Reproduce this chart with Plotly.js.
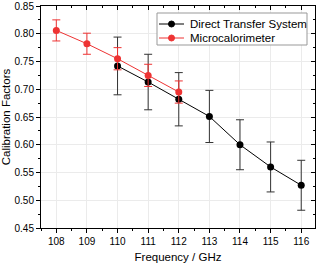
<!DOCTYPE html>
<html>
<head>
<meta charset="utf-8">
<script src="https://cdn.plot.ly/plotly-3.0.1.min.js"></script>
<style>
html,body{margin:0;padding:0;background:#fff;}
#chart{width:320px;height:264px;}
</style>
</head>
<body>
<div id="chart"></div>
<script>
var freqDTS = [110, 111, 112, 113, 114, 115, 116];
var valDTS = [0.742, 0.713, 0.682, 0.651, 0.600, 0.560, 0.527];
var errDTS = [0.052, 0.050, 0.048, 0.047, 0.045, 0.045, 0.045];
var freqMC = [108, 109, 110, 111, 112];
var valMC = [0.806, 0.782, 0.755, 0.725, 0.695];
var errMC = [0.019, 0.019, 0.020, 0.020, 0.020];
var nameDTS = 'Direct Transfer System';
var nameMC = 'Microcalorimeter';
var xTitle = 'Frequency / GHz';
var yTitle = 'Calibration Factors';

var FONT = 'Liberation Sans, Arial, sans-serif';
var XR = [107.5, 116.45];
var YR = [0.45, 0.85];
var BLACK = '#000000';
var RED = '#ee3333';

// plot area in pixels (for legend placement)
var PL = 41, PR = 315, PT = 6, PB = 228;
function px(x) { return (x - PL) / (PR - PL); }
function py(y) { return 1 - (y - PT) / (PB - PT); }

var traces = [
  {
    x: freqDTS, y: valDTS, name: nameDTS, type: 'scatter', mode: 'lines+markers',
    line: {color: BLACK, width: 1},
    marker: {color: BLACK, size: 7},
    error_y: {type: 'data', array: errDTS, visible: true, color: '#333333', thickness: 1, width: 4}
  },
  {
    x: freqMC, y: valMC, name: nameMC, type: 'scatter', mode: 'lines+markers',
    line: {color: RED, width: 1},
    marker: {color: RED, size: 7},
    error_y: {type: 'data', array: errMC, visible: true, color: RED, thickness: 1, width: 4}
  },
  {
    x: [XR[0]], y: [YR[0]], xaxis: 'x2', yaxis: 'y2', type: 'scatter', mode: 'markers',
    marker: {opacity: 0}, showlegend: false, hoverinfo: 'skip'
  }
];

// custom compact legend (Origin style)
var legItems = [
  {name: nameDTS, color: BLACK, row: 24},
  {name: nameMC, color: RED, row: 38}
];
var shapes = [
  {type: 'rect', xref: 'paper', yref: 'paper', x0: px(157), x1: px(307), y0: py(13), y1: py(45),
   line: {color: '#999999', width: 1}, fillcolor: '#ffffff', layer: 'above'}
];
var annotations = [];
legItems.forEach(function (it) {
  shapes.push({type: 'line', xref: 'paper', yref: 'paper', x0: px(159), x1: px(184), y0: py(it.row), y1: py(it.row),
    line: {color: it.color, width: 1}, layer: 'above'});
  shapes.push({type: 'circle', xref: 'paper', yref: 'paper', xsizemode: 'pixel', ysizemode: 'pixel',
    xanchor: px(171.5), yanchor: py(it.row), x0: -3, x1: 3, y0: -3, y1: 3,
    fillcolor: it.color, line: {color: it.color, width: 1}, layer: 'above'});
  annotations.push({xref: 'paper', yref: 'paper', x: px(188), y: py(it.row), xanchor: 'left', yanchor: 'middle',
    text: it.name, showarrow: false, font: {family: FONT, size: 11.5, color: '#000'}});
});

var layout = {
  width: 320, height: 264,
  margin: {l: 41, r: 5, t: 6, b: 36},
  paper_bgcolor: '#ffffff', plot_bgcolor: '#ffffff',
  showlegend: false,
  font: {family: FONT, color: '#000000', size: 10},
  xaxis: {
    range: XR, dtick: 1, tick0: 108, tickmode: 'linear',
    ticks: 'outside', ticklen: 4, tickwidth: 1, tickcolor: '#000',
    minor: {dtick: 0.5, tick0: 108, ticks: 'outside', ticklen: 2, tickcolor: '#000', showgrid: false},
    showline: true, linecolor: '#000', linewidth: 1, mirror: true,
    showgrid: true, gridcolor: '#ebebeb', gridwidth: 1, zeroline: false,
    tickfont: {family: FONT, size: 10, color: '#000'},
    title: {text: xTitle, font: {family: FONT, size: 11.5, color: '#000'}, standoff: 6}
  },
  yaxis: {
    range: YR, dtick: 0.05, tick0: 0.45, tickmode: 'linear', tickformat: '.2f',
    ticks: 'outside', ticklen: 4, tickwidth: 1, tickcolor: '#000',
    minor: {dtick: 0.025, tick0: 0.45, ticks: 'outside', ticklen: 2, tickcolor: '#000', showgrid: false},
    showline: true, linecolor: '#000', linewidth: 1, mirror: true,
    showgrid: true, gridcolor: '#ebebeb', gridwidth: 1, zeroline: false,
    tickfont: {family: FONT, size: 10, color: '#000'},
    title: {text: yTitle, font: {family: FONT, size: 11.5, color: '#000'}, standoff: 4}
  },
  xaxis2: {
    overlaying: 'x', side: 'top', range: XR, dtick: 1, tick0: 108, tickmode: 'linear',
    ticks: 'inside', ticklen: 4, tickcolor: '#000', showticklabels: false,
    minor: {dtick: 0.5, tick0: 108, ticks: 'inside', ticklen: 2, tickcolor: '#000'},
    showgrid: false, zeroline: false, showline: false
  },
  yaxis2: {
    overlaying: 'y', side: 'right', range: YR, dtick: 0.05, tick0: 0.45, tickmode: 'linear',
    ticks: 'inside', ticklen: 4, tickcolor: '#000', showticklabels: false,
    minor: {dtick: 0.025, tick0: 0.45, ticks: 'inside', ticklen: 2, tickcolor: '#000'},
    showgrid: false, zeroline: false, showline: false
  },
  shapes: shapes,
  annotations: annotations
};

Plotly.newPlot('chart', traces, layout, {staticPlot: true, displayModeBar: false});
</script>
</body>
</html>
